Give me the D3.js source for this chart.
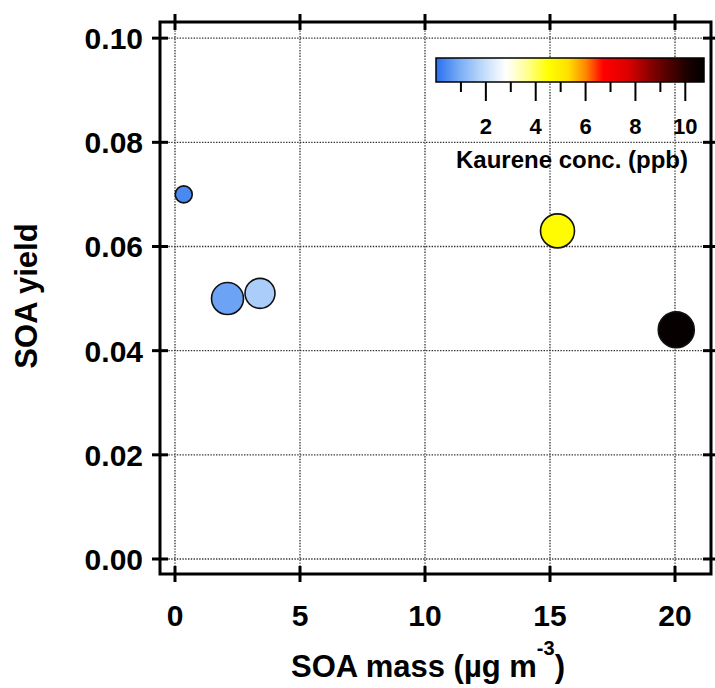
<!DOCTYPE html>
<html>
<head>
<meta charset="utf-8">
<script src="https://cdn.jsdelivr.net/npm/d3@7"></script>
<style>
  body { margin: 0; background: #fff; }
  svg text { font-family: "Liberation Sans", Arial, sans-serif; font-weight: bold; }
</style>
</head>
<body>
<script>
// data
var soaMass  = [0.35, 2.1, 3.4, 15.3, 20.05];
var soaYield = [0.070, 0.050, 0.051, 0.063, 0.044];
var kaurene  = [0.4, 0.8, 1.6, 4.6, 10.6];
var markerRel = [8.5, 16, 15, 17, 18];   // relative marker size
var xTicks = [0, 5, 10, 15, 20];
var yTicks = [0, 0.02, 0.04, 0.06, 0.08, 0.10];
var cbTicks = [1, 2, 3, 4, 5, 6, 7, 8, 9, 10];
var cbLabels = [2, 4, 6, 8, 10];

var W = 715, H = 688;
var frame = {left: 160, right: 711, top: 22, bottom: 574};

var svg = d3.select("body").append("svg")
    .attr("width", W)
    .attr("height", H);

var x = d3.scaleLinear().domain([-0.6, 21.44]).range([frame.left, frame.right]);
var y = d3.scaleLinear().domain([-0.00288, 0.1031]).range([frame.bottom, frame.top]);
var r = d3.scaleLinear().domain([0, 1]).range([0, 1]);

// colour map for kaurene concentration
var cStops = [0, 1, 2, 2.8, 3.6, 4.5, 5.3, 6.0, 6.7, 7.7, 8.7, 10, 10.75];
var cCols  = ["#2a6ff0", "#7db0f5", "#c8e0fb", "#ffffff", "#ffff9a", "#ffff00", "#ffe000",
              "#ff8800", "#ff0000", "#dd0000", "#800000", "#200000", "#000000"];
var color = d3.scaleLinear().domain(cStops).range(cCols).clamp(true);

// grid
var grid = svg.append("g")
    .attr("stroke", "#333")
    .attr("stroke-width", 1.3)
    .attr("stroke-dasharray", "1.4,1.4");
grid.selectAll(".gx").data(xTicks).enter().append("line")
    .attr("x1", function(d) { return x(d); }).attr("x2", function(d) { return x(d); })
    .attr("y1", frame.top).attr("y2", frame.bottom);
grid.selectAll(".gy").data(yTicks).enter().append("line")
    .attr("y1", function(d) { return y(d); }).attr("y2", function(d) { return y(d); })
    .attr("x1", frame.left).attr("x2", frame.right);

// frame
svg.append("rect")
    .attr("x", frame.left).attr("y", frame.top)
    .attr("width", frame.right - frame.left)
    .attr("height", frame.bottom - frame.top)
    .attr("fill", "none")
    .attr("stroke", "#000")
    .attr("stroke-width", 3);

// ticks crossing the frame on all four sides
var tk = svg.append("g").attr("stroke", "#000").attr("stroke-width", 3);
xTicks.forEach(function(d) {
    tk.append("line").attr("x1", x(d)).attr("x2", x(d)).attr("y1", frame.bottom - 8).attr("y2", frame.bottom + 8);
    tk.append("line").attr("x1", x(d)).attr("x2", x(d)).attr("y1", frame.top - 8).attr("y2", frame.top + 8);
});
yTicks.forEach(function(d) {
    tk.append("line").attr("y1", y(d)).attr("y2", y(d)).attr("x1", frame.left - 8).attr("x2", frame.left + 8);
    tk.append("line").attr("y1", y(d)).attr("y2", y(d)).attr("x1", frame.right - 8).attr("x2", frame.right + 8);
});

// tick labels
svg.selectAll(".xl").data(xTicks).enter().append("text")
    .attr("x", function(d) { return x(d); })
    .attr("y", 626)
    .attr("text-anchor", "middle")
    .attr("font-size", 30)
    .text(function(d) { return d; });
svg.selectAll(".yl").data(yTicks).enter().append("text")
    .attr("x", 143)
    .attr("y", function(d) { return y(d) + 11; })
    .attr("text-anchor", "end")
    .attr("font-size", 30)
    .text(d3.format(".2f"));

// axis titles
svg.append("text")
    .attr("transform", "translate(37,296) rotate(-90)")
    .attr("text-anchor", "middle")
    .attr("font-size", 31)
    .text("SOA yield");
var xt = svg.append("text")
    .attr("x", 428).attr("y", 677)
    .attr("text-anchor", "middle")
    .attr("font-size", 31);
xt.append("tspan").text("SOA mass (\u00b5g m");
xt.append("tspan").attr("dy", -22).attr("font-size", 20).text("-3");
xt.append("tspan").attr("dy", 22).text(")");

// points
svg.selectAll(".pt").data(soaMass).enter().append("circle")
    .attr("cx", function(d) { return x(d); })
    .attr("cy", function(d, i) { return y(soaYield[i]); })
    .attr("r", function(d, i) { return r(markerRel[i]); })
    .attr("fill", function(d, i) { return color(kaurene[i]); })
    .attr("stroke", "#111")
    .attr("stroke-width", 1.6);

// colour bar
var cb = d3.scaleLinear().domain([0, 10.75]).range([436, 704]);
var defs = svg.append("defs");
var grad = defs.append("linearGradient").attr("id", "cbar");
cStops.forEach(function(s, i) {
    grad.append("stop")
        .attr("offset", (s / 10.75 * 100) + "%")
        .attr("stop-color", cCols[i]);
});
svg.append("rect")
    .attr("x", cb(0)).attr("y", 58)
    .attr("width", cb(10.75) - cb(0)).attr("height", 24)
    .attr("fill", "url(#cbar)")
    .attr("stroke", "#000")
    .attr("stroke-width", 1.5);
svg.selectAll(".cbt").data(cbTicks).enter().append("line")
    .attr("x1", function(d) { return cb(d); })
    .attr("x2", function(d) { return cb(d); })
    .attr("y1", 82)
    .attr("y2", function(d) { return d % 2 === 0 ? 101 : 92; })
    .attr("stroke", "#000")
    .attr("stroke-width", 2);
svg.selectAll(".cbl").data(cbLabels).enter().append("text")
    .attr("x", function(d) { return cb(d); })
    .attr("y", 134)
    .attr("text-anchor", "middle")
    .attr("font-size", 22)
    .text(function(d) { return d; });
svg.append("text")
    .attr("x", 572).attr("y", 168)
    .attr("text-anchor", "middle")
    .attr("font-size", 24)
    .text("Kaurene conc. (ppb)");
</script>
</body>
</html>
